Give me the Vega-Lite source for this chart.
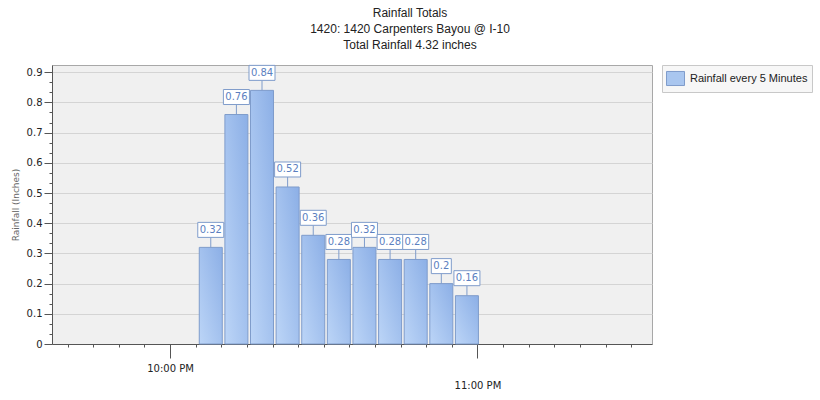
{
  "$schema": "https://vega.github.io/schema/vega-lite/v6.json",
  "width": 600,
  "height": 279,
  "autosize": {"type": "none"},
  "padding": {"left": 52, "top": 65, "right": 168, "bottom": 56},
  "background": "white",
  "title": {
    "text": ["Rainfall Totals", "1420: 1420 Carpenters Bayou @ I-10", "Total Rainfall 4.32 inches"],
    "font": "Liberation Sans", "fontSize": 12, "fontWeight": "normal", "color": "#222222",
    "lineHeight": 16, "anchor": "middle", "dx": 58, "offset": 11
  },
  "config": {
    "view": {"stroke": "#a8a8a8", "fill": "#f0f0f0"}
  },
  "data": {
    "values": [
      {"time": "2024-01-01T22:10:00Z", "value": 0.32},
      {"time": "2024-01-01T22:15:00Z", "value": 0.76},
      {"time": "2024-01-01T22:20:00Z", "value": 0.84},
      {"time": "2024-01-01T22:25:00Z", "value": 0.52},
      {"time": "2024-01-01T22:30:00Z", "value": 0.36},
      {"time": "2024-01-01T22:35:00Z", "value": 0.28},
      {"time": "2024-01-01T22:40:00Z", "value": 0.32},
      {"time": "2024-01-01T22:45:00Z", "value": 0.28},
      {"time": "2024-01-01T22:50:00Z", "value": 0.28},
      {"time": "2024-01-01T22:55:00Z", "value": 0.2},
      {"time": "2024-01-01T23:00:00Z", "value": 0.16}
    ]
  },
  "encoding": {
    "x": {
      "field": "time", "type": "temporal",
      "scale": {"type": "utc", "domain": [1704145076000, 1704151986000], "nice": false},
      "axis": {
        "title": null,
        "values": [1704145200000, 1704145500000, 1704145800000, 1704146100000, 1704146400000, 1704146700000, 1704147000000, 1704147300000, 1704147600000, 1704147900000, 1704148200000, 1704148500000, 1704148800000, 1704149100000, 1704149400000, 1704149700000, 1704150000000, 1704150300000, 1704150600000, 1704150900000, 1704151200000, 1704151500000, 1704151800000],
        "labelExpr": "(+datum.value) == 1704146400000 ? '10:00 PM' : ((+datum.value) == 1704150000000 ? '11:00 PM' : '')",
        "labelOverlap": false,
        "labelFlush": false,
        "labelFont": "DejaVu Sans", "labelFontSize": 10, "labelColor": "#222222",
        "labelLineHeight": 17,
        "labelBaseline": {"condition": {"test": "(+datum.value) == 1704150000000", "value": "line-top"}, "value": "line-bottom"},
        "labelPadding": 19,
        "tickSize": 14,
        "tickDash": {"condition": {"test": "(+datum.value) % 3600000 == 0", "value": [14, 0]}, "value": [3, 20]},
        "tickColor": "#555555", "domainColor": "#555555",
        "grid": false
      }
    },
    "y": {
      "field": "value", "type": "quantitative",
      "scale": {"domain": [0, 0.924], "nice": false, "zero": true},
      "axis": {
        "title": "Rainfall (Inches)",
        "titleFont": "DejaVu Sans", "titleFontSize": 9, "titleFontWeight": "normal", "titleColor": "#666666",
        "titlePadding": 6,
        "values": [0, 0.0333, 0.0667, 0.1, 0.1333, 0.1667, 0.2, 0.2333, 0.2667, 0.3, 0.3333, 0.3667, 0.4, 0.4333, 0.4667, 0.5, 0.5333, 0.5667, 0.6, 0.6333, 0.6667, 0.7, 0.7333, 0.7667, 0.8, 0.8333, 0.8667, 0.9],
        "labelExpr": "abs(datum.value*10 - round(datum.value*10)) < 0.01 ? '' + round(datum.value*10)/10 : ''",
        "labelFont": "DejaVu Sans", "labelFontSize": 10, "labelColor": "#222222",
        "labelPadding": 2,
        "labelOverlap": false,
        "tickSize": 8,
        "tickDash": {"condition": {"test": "abs(datum.value*10 - round(datum.value*10)) < 0.01", "value": [8, 0]}, "value": [3, 20]},
        "tickColor": "#555555", "domainColor": "#555555",
        "grid": true, "gridColor": "#d4d4d4",
        "gridOpacity": {"condition": {"test": "abs(datum.value*10 - round(datum.value*10)) < 0.01", "value": 1}, "value": 0}
      }
    }
  },
  "layer": [
    {
      "mark": {
        "type": "bar", "width": 23, "xOffset": -10.5, "stroke": "#7f9ccb", "strokeWidth": 1,
        "color": {"gradient": "linear", "x1": 0, "y1": 1, "x2": 1, "y2": 0,
          "stops": [{"offset": 0, "color": "#bcd5f7"}, {"offset": 1, "color": "#8cafe6"}]}
      }
    },
    {
      "mark": {"type": "rule", "xOffset": -10.5, "y2Offset": -10, "color": "#7f9ccb", "strokeWidth": 1},
      "encoding": {"y2": {"field": "value"}}
    },
    {
      "mark": {"type": "point", "filled": true, "fill": "white", "stroke": "#7f9ccb", "strokeWidth": 1, "opacity": 1, "xOffset": -10.5, "yOffset": -17.5},
      "encoding": {
        "shape": {"condition": {"test": "length(format(datum.value, '.2~f')) < 4", "value": "M-1,-0.75H1V0.75H-1Z"}, "value": "M-1,-0.577H1V0.577H-1Z"},
        "size": {"condition": {"test": "length(format(datum.value, '.2~f')) < 4", "value": 400}, "value": 676}
      }
    },
    {
      "mark": {"type": "text", "xOffset": -10.5, "yOffset": -17.5, "baseline": "middle", "align": "center", "font": "DejaVu Sans", "fontSize": 10, "color": "#5b7fbf"},
      "encoding": {"text": {"field": "value", "type": "quantitative", "format": ".2~f"}}
    },
    {
      "mark": {"type": "point", "shape": "square", "filled": true, "opacity": 0},
      "encoding": {
        "color": {
          "datum": "Rainfall every 5 Minutes",
          "scale": {"range": ["#a9c6ef"]},
          "legend": {
            "title": null, "orient": "none", "legendX": 610, "legendY": 0,
            "fillColor": "#f7f7f7", "strokeColor": "#c8c8c8", "padding": 4,
            "symbolType": "M-1,-0.78H1V0.78H-1Z", "symbolSize": 324,
            "symbolStrokeColor": "#7f9ccb", "symbolStrokeWidth": 1, "symbolOpacity": 1,
            "symbolFillColor": "#a9c6ef",
            "labelFont": "Liberation Sans", "labelFontSize": 11, "labelColor": "#222222",
            "labelOffset": 5
          }
        }
      }
    }
  ]
}
